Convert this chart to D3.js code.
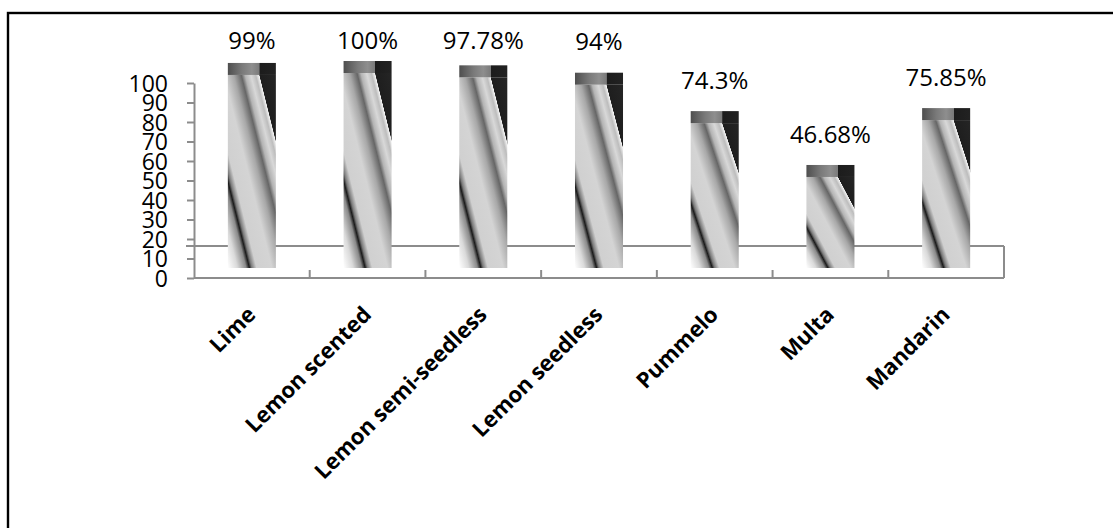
<!DOCTYPE html>
<html>
<head>
<meta charset="utf-8">
<script src="https://cdn.jsdelivr.net/npm/d3@7"></script>
<style>
  html, body { margin: 0; padding: 0; background: #fff; }
  svg { display: block; }
</style>
</head>
<body>
<svg width="1113" height="528"></svg>
<script>
// chart data
const categories = ["Lime", "Lemon scented", "Lemon semi-seedless", "Lemon seedless", "Pummelo", "Multa", "Mandarin"];
const values = [99, 100, 97.78, 94, 74.3, 46.68, 75.85];
const valueLabels = ["99%", "100%", "97.78%", "94%", "74.3%", "46.68%", "75.85%"];
const yTicks = [0, 10, 20, 30, 40, 50, 60, 70, 80, 90, 100];

const svg = d3.select("svg");
const axisColor = "#8c8c8c";
const lift = 10;    // bars sit a little above the front edge (3D look)
const capH = 12;    // top face of each bar
const floorDepth = 32;

// outer frame
svg.append("rect")
   .attr("x", 8).attr("y", 13)
   .attr("width", 1130).attr("height", 540)
   .attr("fill", "none").attr("stroke", "#000").attr("stroke-width", 2.4);

const x = d3.scaleBand().domain(categories).range([194, 1004])
            .paddingInner(0.585).paddingOuter(0.2925);
const y = d3.scaleLinear().domain([0, 100]).range([278, 83]);

// gradients for the striped bar body and the cap
const defs = svg.append("defs");
const bodyStops = [
  [0, "#ffffff"], [0.1, "#dadada"], [0.19, "#8a8a8a"], [0.225, "#1a1a1a"],
  [0.25, "#7a7a7a"], [0.3, "#d0d0d0"], [0.46, "#d4d4d4"], [0.56, "#a8a8a8"],
  [0.64, "#666666"], [0.68, "#b4b4b4"], [0.74, "#d8d8d8"], [0.79, "#bdbdbd"],
  [0.825, "#f4f4f4"], [0.83, "#1e1e1e"], [1, "#252525"]
];
defs.append("linearGradient").attr("id", "body")
    .attr("x1", 0).attr("y1", 1).attr("x2", 1).attr("y2", 0)
    .selectAll("stop").data(bodyStops).join("stop")
    .attr("offset", d => d[0]).attr("stop-color", d => d[1]);

const capStops = [
  [0, "#4e4e4e"], [0.3, "#7a7a7a"], [0.5, "#8e8e8e"], [0.655, "#7a7a7a"],
  [0.665, "#1c1c1c"], [1, "#222222"]
];
defs.append("linearGradient").attr("id", "cap")
    .attr("x1", 0).attr("y1", 0).attr("x2", 1).attr("y2", 0)
    .selectAll("stop").data(capStops).join("stop")
    .attr("offset", d => d[0]).attr("stop-color", d => d[1]);

// floor: back edge, right edge and front axis
const g = svg.append("g");
g.append("line")
 .attr("x1", 186).attr("x2", 1004)
 .attr("y1", y(0) - floorDepth).attr("y2", y(0) - floorDepth)
 .attr("stroke", axisColor).attr("stroke-width", 2);
g.append("line")
 .attr("x1", 1004).attr("x2", 1004)
 .attr("y1", y(0) - floorDepth).attr("y2", y(0))
 .attr("stroke", axisColor).attr("stroke-width", 2);
g.append("line")
 .attr("x1", 194).attr("x2", 1004)
 .attr("y1", y(0)).attr("y2", y(0))
 .attr("stroke", axisColor).attr("stroke-width", 2);

// category separators on the front axis
const step = x.step();
g.selectAll(".sep")
 .data(categories.slice(0, -1))
 .join("line")
 .attr("class", "sep")
 .attr("x1", d => x(d) + x.bandwidth() + (step - x.bandwidth()) / 2)
 .attr("x2", d => x(d) + x.bandwidth() + (step - x.bandwidth()) / 2)
 .attr("y1", y(0) - 8).attr("y2", y(0))
 .attr("stroke", axisColor).attr("stroke-width", 2);

// y axis
const yAxis = svg.append("g")
  .attr("transform", "translate(194,0)")
  .call(d3.axisLeft(y).tickValues(yTicks).tickSize(7).tickSizeOuter(0).tickPadding(19));
yAxis.select(".domain").attr("stroke", axisColor).attr("stroke-width", 2);
yAxis.selectAll(".tick line").attr("stroke", axisColor).attr("stroke-width", 2);
yAxis.selectAll(".tick text")
  .attr("fill", "#000")
  .style("font", "23px 'Open Sans', sans-serif")
  .attr("dy", "0.36em");

// bars
const bars = svg.append("g");
const data = categories.map((c, i) => ({ cat: c, v: values[i], label: valueLabels[i] }));

bars.selectAll(".body")
  .data(data).join("rect")
  .attr("class", "body")
  .attr("x", d => x(d.cat))
  .attr("y", d => y(d.v) - lift)
  .attr("width", x.bandwidth())
  .attr("height", d => y(0) - y(d.v))
  .attr("fill", "url(#body)");

bars.selectAll(".cap")
  .data(data).join("rect")
  .attr("class", "cap")
  .attr("x", d => x(d.cat))
  .attr("y", d => y(d.v) - lift - capH)
  .attr("width", x.bandwidth())
  .attr("height", capH)
  .attr("fill", "url(#cap)");

// value labels
svg.append("g").selectAll("text")
  .data(data).join("text")
  .attr("x", d => x(d.cat) + x.bandwidth() / 2)
  .attr("y", d => Math.max(y(d.v) - lift - capH - 31, 40))
  .attr("dy", "0.36em")
  .attr("text-anchor", "middle")
  .style("font", "24px 'Open Sans', sans-serif")
  .text(d => d.label);

// category labels
svg.append("g").selectAll("text")
  .data(categories).join("text")
  .attr("transform", d => `translate(${x(d) + x.bandwidth() / 2 + 5},316) rotate(-45)`)
  .attr("text-anchor", "end")
  .style("font", "bold 22px 'Open Sans', sans-serif")
  .text(d => d);
</script>
</body>
</html>
